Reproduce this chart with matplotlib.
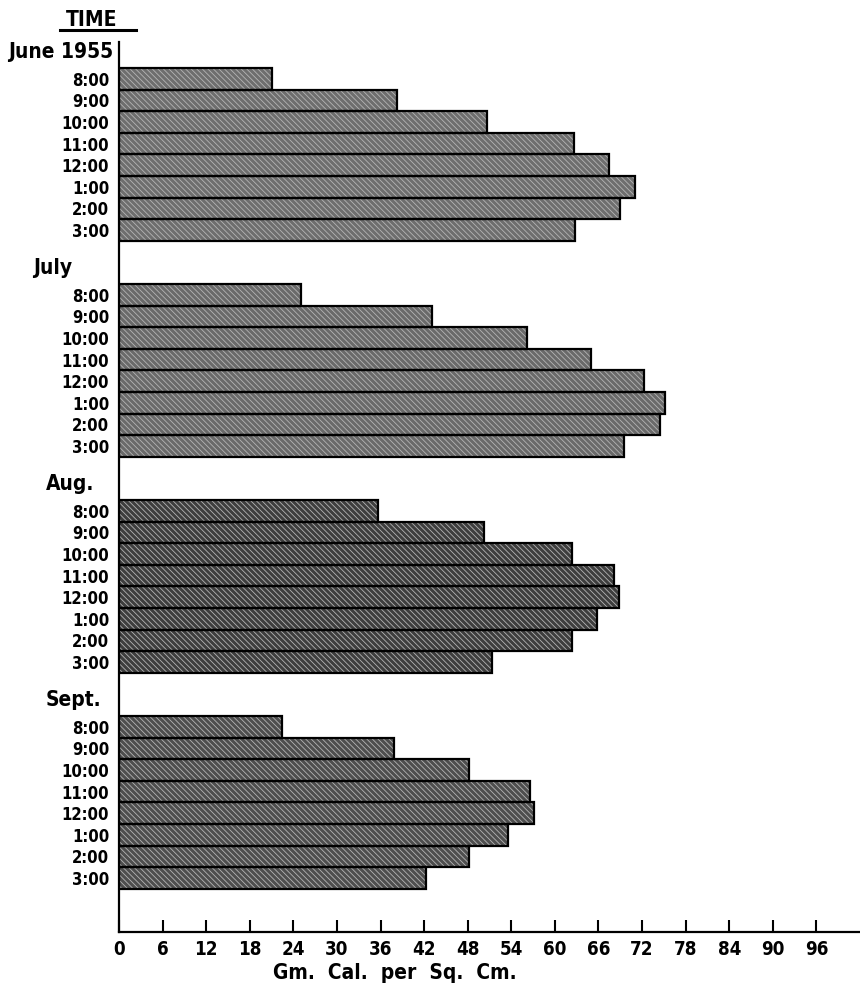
#!/usr/bin/env python3
"""Solar radiation by hour, June-Sept 1955, as stacked month groups of horizontal bars."""

import matplotlib

matplotlib.use("Agg")

import matplotlib.pyplot as plt
import matplotlib.transforms as mtransforms

MONTHS = ["June 1955", "July", "Aug.", "Sept."]
HOURS = ["8:00", "9:00", "10:00", "11:00", "12:00", "1:00", "2:00", "3:00"]

JUNE = [21.1, 38.3, 50.6, 62.6, 67.5, 71.0, 68.9, 62.7]
JULY = [25.0, 43.1, 56.1, 65.0, 72.3, 75.1, 74.5, 69.5]
AUG = [35.6, 50.3, 62.4, 68.2, 68.8, 65.8, 62.3, 51.3]
SEPT = [22.4, 37.9, 48.2, 56.6, 57.1, 53.5, 48.2, 42.3]

X_TICKS = list(range(0, 97, 6))

MONTH_FILL = ["#6e6e6e", "#6a6a6a", "#3e3e3e", "#4e4e4e"]
MONTH_LABEL_X = [8, 33, 46, 46]  # left edge, pixels

plt.rcParams["font.family"] = ["DejaVu Sans"]
plt.rcParams["font.weight"] = "bold"
plt.rcParams["font.stretch"] = "condensed"
plt.rcParams["hatch.linewidth"] = 0.6

fig = plt.figure(figsize=(8.6, 9.9), dpi=100)
ax = fig.add_axes([0.1384, 0.0586, 0.8616, 0.899])

series = [JUNE, JULY, AUG, SEPT]
slot_gap = 10
tick_pos = []
tick_lab = []
trans = mtransforms.blended_transform_factory(fig.transFigure, ax.transData)
for g, (vals, fill) in enumerate(zip(series, MONTH_FILL)):
    ys = [g * slot_gap + h for h in range(len(HOURS))]
    ax.barh(ys, vals, height=1.0, color=fill, edgecolor="none", zorder=2)
    ax.barh(ys, vals, height=1.0, fill=False, hatch="\\\\\\\\\\\\", edgecolor="#b4b4b4",
            linewidth=0, zorder=3)
    ax.barh(ys, vals, height=1.0, fill=False, edgecolor="black", linewidth=1.6, zorder=4)
    tick_pos += ys
    tick_lab += HOURS
    ax.text(MONTH_LABEL_X[g] / 860, ys[0] - 1.25, MONTHS[g], transform=trans,
            ha="left", va="center", fontsize=15, fontweight="bold")

ax.set_ylim(39.5, -1.7)
ax.set_xlim(0, 102)
ax.set_yticks(tick_pos)
ax.set_yticklabels(tick_lab, fontsize=12, fontweight="bold")
ax.tick_params(axis="y", length=0, pad=7)
ax.set_xticks(X_TICKS)
ax.set_xticklabels([str(t) for t in X_TICKS], fontsize=13.5, fontweight="bold")
ax.tick_params(axis="x", direction="in", length=9, width=1.5, pad=6)
ax.set_xlabel("Gm.  Cal.  per  Sq.  Cm.", fontsize=15, fontweight="bold")
ax.xaxis.set_label_coords(0.372, -0.035)

for side in ("top", "right"):
    ax.spines[side].set_visible(False)
for side in ("left", "bottom"):
    ax.spines[side].set_linewidth(1.6)

fig.text(92 / 860, 1 - 20 / 990, "TIME", ha="center", va="center", fontsize=15,
         fontweight="bold")
fig.add_artist(plt.Line2D([60 / 860, 136 / 860], [1 - 30 / 990, 1 - 30 / 990],
                          color="black", lw=2.2))

fig.savefig("out.png", dpi=100)
